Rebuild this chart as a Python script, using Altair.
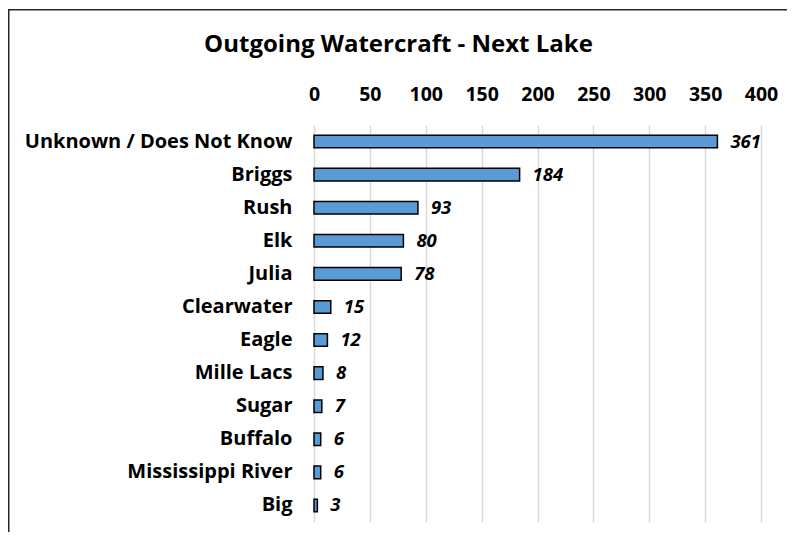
import altair as alt
import pandas as pd

lakes = ["Unknown / Does Not Know", "Briggs", "Rush", "Elk", "Julia", "Clearwater",
         "Eagle", "Mille Lacs", "Sugar", "Buffalo", "Mississippi River", "Big"]
counts = [361, 184, 93, 80, 78, 15, 12, 8, 7, 6, 6, 3]
ticks = [0, 50, 100, 150, 200, 250, 300, 350, 400]

df = pd.DataFrame({"lake": lakes, "count": counts})
FONT = "Open Sans"

base = alt.Chart(df).encode(
    y=alt.Y("lake:N", sort=lakes, title=None,
            scale=alt.Scale(paddingInner=0.62, paddingOuter=0.31),
            axis=alt.Axis(labelFont=FONT, labelFontSize=20, labelFontWeight="bold",
                          labelColor="#000000", labelPadding=22, ticks=False,
                          domain=False, grid=False, labelLimit=400)),
)

bars = base.mark_bar(color="#5B9BD5", stroke="#000000", strokeWidth=1.5).encode(
    x=alt.X("count:Q", title=None,
            scale=alt.Scale(domain=[0, 400], nice=False),
            axis=alt.Axis(orient="top", values=ticks, labelFont=FONT, labelFontSize=19.5,
                          labelFontWeight="bold", labelColor="#000000", labelPadding=21,
                          ticks=False, domain=False, grid=True, gridColor="#d9d9d9",
                          gridWidth=1.5, labelFlush=False)),
)

labels = base.mark_text(align="left", baseline="middle", dx=13, font=FONT, fontSize=18.5,
                        fontWeight="bold", fontStyle="italic", color="#000000").encode(
    x="count:Q", text="count:Q")

border = alt.Chart(pd.DataFrame({"b": [0]})).mark_rect(
    fill=None, stroke="#262626", strokeWidth=1.5).encode(
    x=alt.value(-305.25), y=alt.value(-115.3), x2=alt.value(500), y2=alt.value(450))

chart = alt.layer(bars, labels, border).properties(
    width=447, height=397,
    title=alt.TitleParams("Outgoing Watercraft - Next Lake", font=FONT, fontSize=24,
                          fontWeight="bold", color="#000000", anchor="middle",
                          dx=-139, offset=0, dy=48),
    autosize=alt.AutoSizeParams(type="none"),
    padding={"left": 306, "top": 117, "right": 26, "bottom": 10},
).configure_view(stroke=None)

chart.save("out.html", embed_options={"renderer": "svg", "actions": False})
